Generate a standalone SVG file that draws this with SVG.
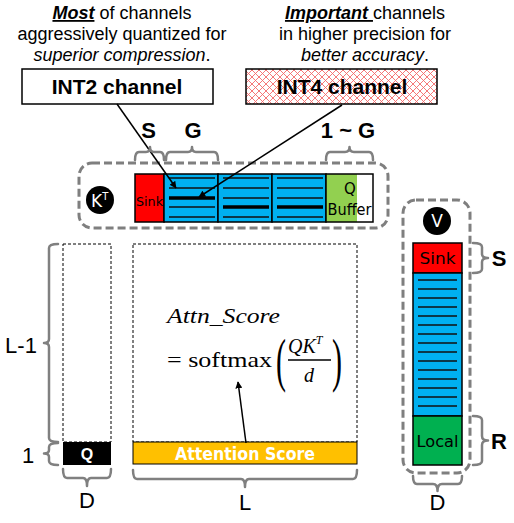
<svg xmlns="http://www.w3.org/2000/svg" width="514" height="523" viewBox="0 0 514 523">
<style>
.sans{font-family:"Liberation Sans",Arial,sans-serif}
.cg{font-family:"DejaVu Sans","Noto Sans",sans-serif}
.serif{font-family:"Liberation Serif","Times New Roman",serif}
.brace{fill:none;stroke:#808080;stroke-width:2.5;stroke-linecap:round;stroke-linejoin:round}
.dbox{fill:none;stroke:#7f7f7f;stroke-width:3;stroke-dasharray:8 4}
.thin{fill:none;stroke:#000;stroke-width:1;stroke-dasharray:3 2}
.cell{stroke:#000;stroke-width:1.5}
.ln{stroke:#111;stroke-width:1.3}
.thick{stroke:#000;stroke-width:3.5}
.lbl{font-family:"Liberation Sans",Arial,sans-serif;font-size:22px;fill:#000;text-anchor:middle}
.b{font-weight:bold}
.note{font-family:"Liberation Sans",Arial,sans-serif;font-size:18px;text-anchor:middle}
</style>
<defs>
<pattern id="hatch" width="7" height="7" patternUnits="userSpaceOnUse">
<rect width="7" height="7" fill="#fff"/>
<path d="M0,0 L7,7 M7,0 L0,7" stroke="#f46a6a" stroke-width="0.9"/>
</pattern>
<marker id="ah" viewBox="0 0 10 10" refX="9" refY="5" markerWidth="7" markerHeight="7" orient="auto" markerUnits="userSpaceOnUse">
<path d="M0,0 L10,5 L0,10 z" fill="#000"/>
</marker>
</defs>
<rect width="514" height="523" fill="#fff"/>

<g id="note-int2">
<text class="note" x="122" y="19"><tspan font-weight="bold" font-style="italic" text-decoration="underline">Most</tspan> of channels</text>
<text class="note" x="122" y="40">aggressively quantized for</text>
<text class="note" x="122" y="61" font-style="italic">superior compression<tspan font-style="normal">.</tspan></text>
</g>
<g id="note-int4">
<text class="note" x="365" y="19"><tspan font-weight="bold" font-style="italic" text-decoration="underline">Important </tspan>channels</text>
<text class="note" x="365" y="40">in higher precision for</text>
<text class="note" x="365" y="61" font-style="italic">better accuracy<tspan font-style="normal">.</tspan></text>
</g>
<g id="int2-box">
<rect x="22" y="69" width="191" height="35" fill="#fff" stroke="#000" stroke-width="1.5"/>
<text class="sans b" font-size="21" text-anchor="middle" x="117" y="94">INT2 channel</text>
</g>
<g id="int4-box">
<rect x="246" y="69" width="191" height="35" fill="url(#hatch)" stroke="#000" stroke-width="1.5"/>
<text class="sans b" font-size="21" text-anchor="middle" x="342" y="94">INT4 channel</text>
</g>

<g id="kt-group">
<rect class="dbox" x="79" y="163" width="309" height="65" rx="13"/>
<circle cx="100" cy="200" r="14" fill="#000"/>
<text class="cg" font-size="17" fill="#fff" x="91" y="207">K<tspan font-size="10" dy="-7">T</tspan></text>
<rect class="cell" x="135" y="174" width="29" height="48" fill="#ff0000"/>
<text class="cg" font-size="13" x="149.5" y="206" text-anchor="middle" textLength="27" lengthAdjust="spacingAndGlyphs">Sink</text>
<rect class="cell" x="164" y="174" width="54" height="48" fill="#00b0f0"/>
<rect class="cell" x="218" y="174" width="54" height="48" fill="#00b0f0"/>
<rect class="cell" x="272" y="174" width="54" height="48" fill="#00b0f0"/>
<g>
<path class="ln" d="M169,178H215M169,188H215M169,207H215M169,217H215"/>
<path class="thick" d="M169,198H215"/>
<path class="ln" d="M223,178H269M223,188H269M223,198H269M223,217H269"/>
<path class="thick" d="M223,207H269"/>
<path class="ln" d="M277,178H323M277,188H323M277,198H323M277,217H323"/>
<path class="thick" d="M277,207H323"/>
</g>
<rect x="326" y="174" width="47" height="48" fill="#fff"/>
<rect x="326" y="174" width="31" height="48" fill="#92d050"/>
<rect x="326" y="174" width="47" height="48" fill="none" stroke="#000" stroke-width="1.5"/>
<text class="cg" font-size="15" x="350" y="194" text-anchor="middle">Q</text>
<text class="cg" font-size="15" x="349.5" y="215" text-anchor="middle" textLength="44" lengthAdjust="spacingAndGlyphs">Buffer</text>
</g>

<g id="v-group">
<rect class="dbox" x="403" y="200" width="67" height="273" rx="13"/>
<circle cx="437" cy="221" r="14" fill="#000"/>
<text class="cg" font-size="17" fill="#fff" x="437" y="227" text-anchor="middle">V</text>
<rect class="cell" x="413" y="243" width="49" height="30" fill="#ff0000"/>
<text class="cg" font-size="15" x="437.5" y="264" text-anchor="middle" textLength="36" lengthAdjust="spacingAndGlyphs">Sink</text>
<rect class="cell" x="413" y="273" width="49" height="143" fill="#00b0f0"/>
<path class="ln" d="M418,280H457M418,289H457M418,298H457M418,307H457M418,316H457M418,325H457M418,334H457M418,343H457M418,352H457M418,361H457M418,370H457M418,379H457M418,388H457M418,397H457M418,406H457"/>
<rect class="cell" x="413" y="416" width="49" height="49" fill="#00b050"/>
<text class="cg" font-size="15" x="437.5" y="447" text-anchor="middle" textLength="42" lengthAdjust="spacingAndGlyphs">Local</text>
</g>

<g id="q-group">
<rect class="thin" x="63" y="244" width="48" height="198"/>
<rect x="63" y="442" width="48" height="23" fill="#000"/>
<text class="sans b" font-size="16" fill="#fff" x="87" y="459.5" text-anchor="middle">Q</text>
</g>

<g id="attn-group">
<rect class="thin" x="133" y="244" width="224" height="198"/>
<rect x="133" y="442" width="224" height="22" fill="#ffc000" stroke="#000" stroke-width="1"/>
<text class="cg" font-size="18" font-weight="600" fill="#fff" x="245" y="460" text-anchor="middle" textLength="140" lengthAdjust="spacingAndGlyphs">Attention Score</text>
<text class="serif" font-size="22" font-style="italic" x="167" y="323" textLength="113" lengthAdjust="spacingAndGlyphs">Attn_Score</text>
<text class="serif" font-size="22" x="167" y="367" textLength="105" lengthAdjust="spacingAndGlyphs">= softmax</text>
<text class="serif" font-size="60" x="276" y="380" transform="translate(276,0) scale(0.5,1) translate(-276,0)">(</text>
<text class="serif" font-size="60" x="332" y="380" transform="translate(332,0) scale(0.5,1) translate(-332,0)">)</text>
<text class="serif" font-size="20" font-style="italic" x="288" y="353">QK<tspan font-size="12" dy="-9">T</tspan></text>
<line x1="288" y1="360" x2="331" y2="360" stroke="#000" stroke-width="1.3"/>
<text class="serif" font-size="20" font-style="italic" x="309" y="382" text-anchor="middle">d</text>
</g>

<g id="connectors">
<line x1="117" y1="104" x2="176" y2="188" stroke="#000" stroke-width="1.5" marker-end="url(#ah)"/>
<line x1="342" y1="105" x2="199" y2="197" stroke="#000" stroke-width="1.5" marker-end="url(#ah)"/>
<line x1="246" y1="443" x2="238" y2="382" stroke="#000" stroke-width="1.5" marker-end="url(#ah)"/>
</g>

<g id="braces">
<path class="brace" d="M135,160 Q135,152 139,152 H146 Q150,152 150,147 Q150,152 154,152 H160 Q164,152 164,160"/>
<path class="brace" d="M166,160 Q166,152 170,152 H188 Q192,152 192,147 Q192,152 196,152 H214 Q218,152 218,160"/>
<path class="brace" d="M326,160 Q326,152 330,152 H345 Q349.5,152 349.5,147 Q349.5,152 354,152 H369 Q373,152 373,160"/>
<path class="brace" d="M58,244 Q49,244 49,248 V339 Q49,343 44,343 Q49,343 49,347 V438 Q49,442 58,442"/>
<path class="brace" d="M58,443 Q49,443 49,447 V450 Q49,453.5 44,453.5 Q49,453.5 49,457 V461 Q49,465 58,465"/>
<path class="brace" d="M63,469 Q63,478 67,478 H83 Q87,478 87,486 Q87,478 91,478 H107 Q111,478 111,469"/>
<path class="brace" d="M133,470 Q133,479 137,479 H241 Q245,479 245,487 Q245,479 249,479 H353 Q357,479 357,470"/>
<path class="brace" d="M473,243 Q482,243 482,247 V254 Q482,258 488,258 Q482,258 482,262 V269 Q482,273 473,273"/>
<path class="brace" d="M473,416 Q482,416 482,420 V436 Q482,440.5 488,440.5 Q482,440.5 482,445 V461 Q482,465 473,465"/>
<path class="brace" d="M413,476 Q413,484 417,484 H433 Q437.5,484 437.5,491 Q437.5,484 442,484 H458 Q462,484 462,476"/>
</g>

<g id="labels">
<text class="lbl b" x="148.5" y="138">S</text>
<text class="lbl b" x="193" y="138">G</text>
<text class="lbl b" x="348" y="138">1 ~ G</text>
<text class="lbl" x="21" y="353">L-1</text>
<text class="lbl" x="28" y="463">1</text>
<text class="lbl" x="87" y="508">D</text>
<text class="lbl" x="245" y="510">L</text>
<text class="lbl b" x="499" y="266">S</text>
<text class="lbl b" x="499" y="449">R</text>
<text class="lbl" x="437.5" y="510">D</text>
</g>
</svg>
